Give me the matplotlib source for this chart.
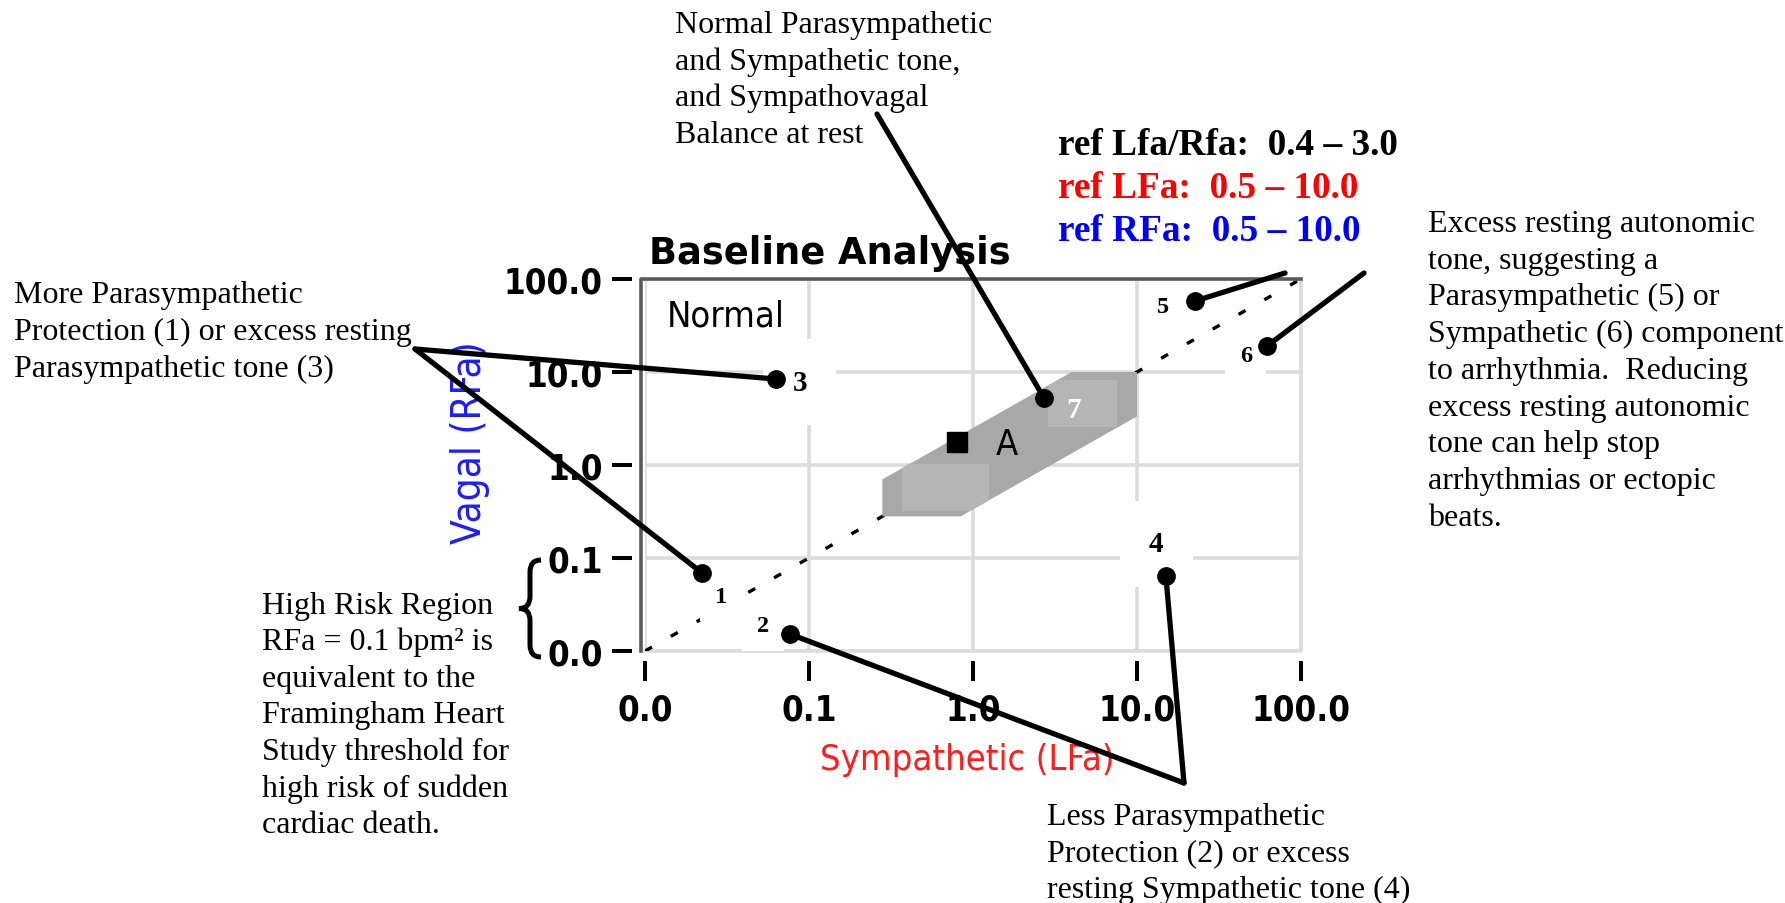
import matplotlib.pyplot as plt
from matplotlib.patches import Polygon, Rectangle, PathPatch
from matplotlib.path import Path
from matplotlib.transforms import IdentityTransform

W, H = 1785, 904
SERIF = ['Liberation Serif', 'DejaVu Serif']
PIX = ['DejaVu Sans']

# axis ticks (log-log, 0.01 is printed as "0.0")
tick_vals = [0.01, 0.1, 1.0, 10.0, 100.0]
tick_labels = ['0.0', '0.1', '1.0', '10.0', '100.0']

# grey reference band: LFa limits, RFa limits, LFa/RFa ratio limits
band_lf = [0.28, 10.0]
band_rf = [0.28, 10.0]
band_ratio = [0.4, 3.0]

# lighter sub-regions inside the band
light_lf = [[0.37, 1.25], [2.86, 7.6]]
light_rf = [[0.32, 1.03], [2.56, 8.2]]

# measured point "A"
point_lf, point_rf = 0.80, 1.77

# numbered call-out points and their labels
num_ids = ['1', '2', '3', '4', '5', '6', '7']
num_lf = [0.0223, 0.0766, 0.063, 15.0, 22.6, 62.0, 2.71]
num_rf = [0.069, 0.0152, 8.4, 0.064, 58.0, 19.0, 5.25]
lab_lf = [0.029, 0.0525, 0.088, 13.1, 14.4, 46.0, 4.13]
lab_rf = [0.039, 0.0186, 7.8, 0.142, 50.0, 14.9, 4.0]

fig = plt.figure(figsize=(W / 100, H / 100), dpi=100)
ax = fig.add_axes([645 / W, 1 - 652 / H, 656 / W, 372 / H])
ax.set_xscale('log')
ax.set_yscale('log')
ax.set_xlim(0.01, 100)
ax.set_ylim(0.01, 100)
ax.set_xticks(tick_vals)
ax.set_xticklabels(tick_labels)
ax.set_yticks(tick_vals)
ax.set_yticklabels(tick_labels)
ax.minorticks_off()

ax.grid(True, color='#dcdcdc', lw=2.6)
ax.set_axisbelow(True)
for s in ['top', 'right']:
	ax.spines[s].set_visible(False)
ax.spines['left'].set_position(('outward', 9.4))
ax.spines['bottom'].set_position(('outward', 7.2))
ax.spines['left'].set_visible(False)
ax.spines['bottom'].set_visible(False)
ax.tick_params(axis='both', which='major', length=14.4, width=2.9,
			   color='black', direction='out')
ax.tick_params(axis='y', pad=6.5)
ax.tick_params(axis='x', pad=8)
for lab in ax.get_xticklabels() + ax.get_yticklabels():
	lab.set_fontfamily(PIX)
	lab.set_fontweight('bold')
	lab.set_fontstretch('condensed')
	lab.set_fontsize(25)

# frame: dark left/top, light right/bottom
off = -4 / 656
ax.plot([off, off, 1], [0, 1, 1], transform=ax.transAxes, color='#5a5a5a',
		lw=2.6, clip_on=False, zorder=1.5)
ax.plot([0, 1, 1], [0, 0, 1], transform=ax.transAxes, color='#dcdcdc',
		lw=2.6, clip_on=False, zorder=0.6)

# identity line LFa = RFa
ax.plot([0.01, 100], [0.01, 100], color='k', lw=2.4, dashes=(2.4, 6.5), zorder=1)

# grey band
lf0, lf1 = band_lf
rf0, rf1 = band_rf
r0, r1 = band_ratio
band = Polygon([(lf0, rf0), (r1 * rf0, rf0), (lf1, lf1 / r1), (lf1, rf1),
				(r0 * rf1, rf1), (lf0, lf0 / r0)],
			   closed=True, fc='#a8a8a8', ec='none', zorder=2)
ax.add_patch(band)
for (x0, x1), (y0, y1) in zip(light_lf, light_rf):
	rect = Rectangle((x0, y0), x1 - x0, y1 - y0, fc='#b5b5b5', ec='none', zorder=2.1)
	ax.add_patch(rect)
	rect.set_clip_path(band)

# point A
ax.plot(point_lf, point_rf, 's', color='k', ms=14.5, zorder=5)
ax.text(1.61, 1.68, 'A', family=PIX, fontstretch='condensed', fontsize=26,
		ha='center', va='center', zorder=5)

# leader lines from the notes to the numbered points (figure pixel anchors)
anchors = {'1': (415, 350), '3': (415, 350), '2': (1184, 784), '4': (1184, 784),
		   '5': (1285, 274), '6': (1364, 274), '7': (877, 115)}
for nid, x, y in zip(num_ids, num_lf, num_rf):
	ax_, ay_ = anchors[nid]
	ax.annotate('', xy=(x, y), xycoords='data', xytext=(ax_, H - ay_),
				textcoords='figure pixels', annotation_clip=False, zorder=4,
				arrowprops=dict(arrowstyle='-', color='k', lw=3.8,
								shrinkA=0, shrinkB=0))
ax.plot(num_lf, num_rf, 'o', color='k', ms=12.5, zorder=5, clip_on=False)

for nid, x, y in zip(num_ids, lab_lf, lab_rf):
	if nid == '7':
		ax.text(x, y, nid, family=SERIF, weight='bold', fontsize=21, color='white',
				ha='center', va='center', zorder=5)
		continue
	big = nid in ('3', '4')
	ax.text(x, y, nid, family=SERIF, weight='bold', fontsize=21 if big else 17.5,
			ha='center', va='center', zorder=3,
			bbox=dict(boxstyle='square,pad=%s' % (1.0 if big else 0.6),
					  fc='white', ec='none'))

# axis labels
ax.set_ylabel('Vagal (RFa)', family=PIX, fontstretch='condensed', fontsize=29,
			  color='#1c1cff', ha='center', va='center')
ax.yaxis.set_label_coords((470 - 645) / 656, (652 - 443) / 372)
ax.set_xlabel('Sympathetic (LFa)', family=PIX, fontstretch='condensed', fontsize=26,
			  color='#ff1c1c', ha='center', va='center')
ax.xaxis.set_label_coords((967 - 645) / 656, (652 - 760) / 372)


def put(x, y, s, **kw):
	ax.text(x / W, 1 - y / H, s, transform=fig.transFigure, va='baseline',
			ha='left', zorder=3, **kw)


def block(x, y0, step, lines, **kw):
	for i, s in enumerate(lines):
		put(x, y0 + i * step, s, **kw)


put(649, 264, 'Baseline Analysis', family=PIX, weight='bold', fontsize=26.5)
put(667, 327, 'Normal', family=PIX, fontstretch='condensed', fontsize=26)

block(675, 33, 36.7, ['Normal Parasympathetic', 'and Sympathetic tone,',
					  'and Sympathovagal', 'Balance at rest'],
	  family=SERIF, fontsize=23)
put(1058, 155, 'ref Lfa/Rfa:  0.4 \u2013 3.0', family=SERIF, weight='bold',
	fontsize=26.8, color='black')
put(1058, 198, 'ref LFa:  0.5 \u2013 10.0', family=SERIF, weight='bold',
	fontsize=26.8, color='#ff0000')
put(1058, 241, 'ref RFa:  0.5 \u2013 10.0', family=SERIF, weight='bold',
	fontsize=26.8, color='#0000ff')
block(14, 303, 37, ['More Parasympathetic', 'Protection (1) or excess resting',
					'Parasympathetic tone (3)'], family=SERIF, fontsize=23)
block(262, 614, 36.5, ['High Risk Region', 'RFa = 0.1 bpm\u00b2 is',
					   'equivalent to the', 'Framingham Heart',
					   'Study threshold for', 'high risk of sudden',
					   'cardiac death.'], family=SERIF, fontsize=23)
block(1428, 232, 36.75, ['Excess resting autonomic', 'tone, suggesting a',
						 'Parasympathetic (5) or', 'Sympathetic (6) component',
						 'to arrhythmia.  Reducing', 'excess resting autonomic',
						 'tone can help stop', 'arrhythmias or ectopic', 'beats.'],
	  family=SERIF, fontsize=23)
block(1047, 825, 36.7, ['Less Parasympathetic', 'Protection (2) or excess',
						'resting Sympathetic tone (4)'], family=SERIF, fontsize=23)

# curly brace marking the high risk band 0.0 - 0.1
yt = ax.transData.transform((1, 0.1))[1] - 2
yb = ax.transData.transform((1, 0.01))[1] - 6
ym = (yt + yb) / 2
xl, xr = 519, 541
xm = (xl + xr) / 2
r = 12
verts = [(xr, yt), (xm, yt), (xm, yt - r), (xm, ym + r), (xm, ym), (xl, ym),
		 (xm, ym), (xm, ym - r), (xm, yb + r), (xm, yb), (xr, yb)]
codes = [Path.MOVETO, Path.CURVE3, Path.CURVE3, Path.LINETO, Path.CURVE3, Path.CURVE3,
		 Path.CURVE3, Path.CURVE3, Path.LINETO, Path.CURVE3, Path.CURVE3]
brace = PathPatch(Path(verts, codes), fc='none', ec='black', lw=3.6,
				  transform=IdentityTransform(), clip_on=False)
fig.add_artist(brace)

fig.savefig('out.png', dpi=100)
